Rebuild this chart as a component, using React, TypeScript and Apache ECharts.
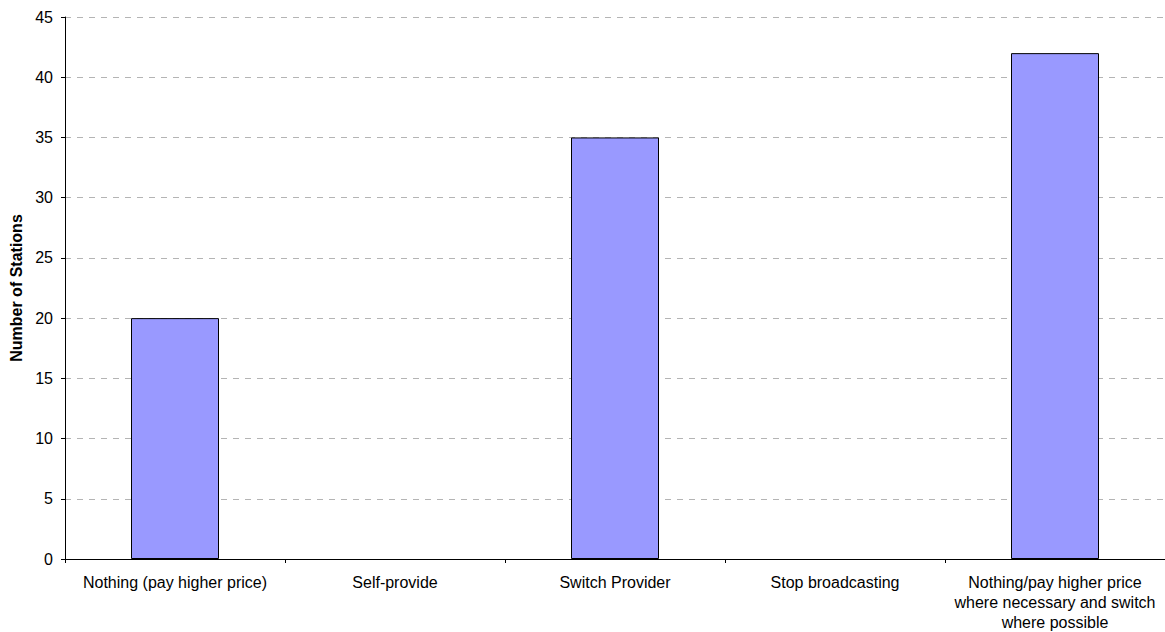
import React, { useEffect, useRef } from "react";
import * as echarts from "echarts";

const categories = [
  "Nothing (pay higher price)",
  "Self-provide",
  "Switch Provider",
  "Stop broadcasting",
  "Nothing/pay higher price\nwhere necessary and switch\nwhere possible",
];
const stations = [20, 0, 35, 0, 42];
const yTicks = { min: 0, max: 45, interval: 5 };

export default function App() {
  const ref = useRef<HTMLDivElement>(null);
  useEffect(() => {
    const chart = echarts.init(ref.current!, null, { renderer: "svg" });
    chart.setOption({
      animation: false,
      textStyle: { fontFamily: "Liberation Sans, Arial, sans-serif" },
      grid: { left: 65, right: 0, top: 17, bottom: 73, containLabel: false },
      xAxis: {
        type: "category",
        data: categories,
        axisLine: { lineStyle: { color: "#000", width: 1 } },
        axisTick: { show: true, length: 4, lineStyle: { color: "#000" } },
        axisLabel: {
          color: "#000",
          fontSize: 16,
          interval: 0,
          margin: 13,
          lineHeight: 20,
          align: "center",
        },
      },
      yAxis: {
        type: "value",
        min: yTicks.min,
        max: yTicks.max,
        interval: yTicks.interval,
        name: "Number of Stations",
        nameLocation: "middle",
        nameGap: 40,
        nameRotate: 90,
        nameTextStyle: { color: "#000", fontSize: 16, fontWeight: "bold" },
        axisLine: { show: true, lineStyle: { color: "#000", width: 1 } },
        axisTick: { show: true, length: 4, lineStyle: { color: "#000" } },
        axisLabel: { color: "#000", fontSize: 16, margin: 12 },
        splitLine: { show: true, lineStyle: { color: "#b4b4b4", type: [6, 6], width: 1 } },
      },
      series: [
        {
          type: "bar",
          data: stations.map((v) =>
            v === 0 ? { value: v, itemStyle: { borderWidth: 0 } } : v
          ),
          barCategoryGap: "60%",
          itemStyle: { color: "#9999ff", borderColor: "#000", borderWidth: 1 },
        },
      ],
    });
    return () => chart.dispose();
  }, []);
  return <div ref={ref} style={{ width: 1165, height: 632, position: "absolute", left: 0, top: 0 }} />;
}
